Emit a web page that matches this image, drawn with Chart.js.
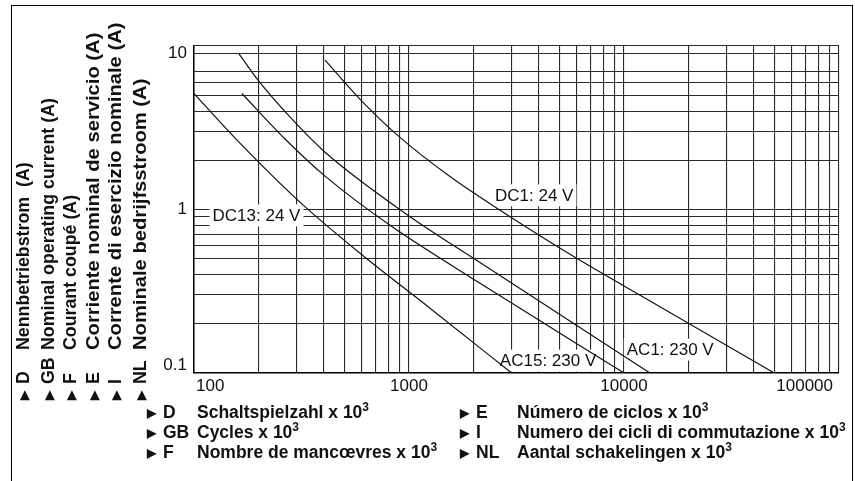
<!DOCTYPE html>
<html lang="de">
<head>
<meta charset="utf-8">
<title>Nennbetriebstrom / Schaltspielzahl</title>
<script src="https://cdn.jsdelivr.net/npm/chart.js"></script>
<style>
  body { margin: 0; background: #fff; }
  .wrap { position: relative; width: 855px; height: 481px; overflow: hidden; font-family: "Liberation Sans", Arial, sans-serif; color: #111; }
  #chart { position: absolute; left: 0; top: 0; }
  .frame { position: absolute; left: 11px; top: 5px; width: 840px; height: 500px; border: 1.5px solid #000; }
  .side, .leg { position: absolute; white-space: pre; font-weight: bold; font-size: 17.5px; line-height: 20px; height: 20px; }
  .side { top: 400px; font-size: 17.8px; transform-origin: 0 0; transform: rotate(-90deg); }
  .side .txt { display: inline-block; transform-origin: 0 50%; }
  .side.wide .txt { transform: scaleX(1.135); }
  .tri { display: inline-block; width: 16px; font-size: 12px; vertical-align: 1px; }
  .code { display: inline-block; width: 34px; }
  .col2 .code { width: 41px; }
  sup { font-size: 12px; line-height: 0; vertical-align: 7px; }
</style>
</head>
<body>
<div class="wrap">
  <canvas id="chart" width="855" height="481"></canvas>
  <div class="frame"></div>
  <div id="legend"></div>
</div>

<script>
// 数据：横轴为循环次数，纵轴为电流 (A)
const dc13X = [100, 164, 311, 592, 1252, 3000];
const dc13Y = [5.12, 2.54, 1.11, 0.54, 0.249, 0.1];
const ac15X = [167, 265, 407, 816, 2139, 10000];
const ac15Y = [5.12, 2.70, 1.60, 0.80, 0.354, 0.1];
const ac1X = [162, 199, 280, 407, 958, 2139, 13200];
const ac1Y = [8.96, 6.16, 3.67, 2.24, 0.95, 0.474, 0.1];
const dc1X = [407, 592, 908, 1551, 2651, 5917, 13210, 50000];
const dc1Y = [8.19, 4.72, 2.76, 1.59, 0.99, 0.51, 0.276, 0.1];

const seriesNames = ['DC13: 24 V', 'AC15: 230 V', 'AC1: 230 V', 'DC1: 24 V'];

// 网格与刻度
const xGrid = [100, 200, 300, 400, 500, 600, 700, 800, 900,
  1000, 2000, 3000, 4000, 5000, 6000, 7000, 8000, 9000,
  10000, 20000, 30000, 40000, 50000, 60000, 70000, 80000, 90000, 100000];
const yGrid = [0.1, 0.2, 0.3, 0.4, 0.5, 0.6, 0.7, 0.8, 0.9, 1, 2, 3, 4, 5, 6, 7, 9, 10];
const xTickLabels = [100, 1000, 10000, 100000];
const yTickLabels = [0.1, 1, 10];

// 轴说明
const yAxisTexts = [
  ['D', 'Nennbetriebstrom  (A)'],
  ['GB', 'Nominal operating current (A)'],
  ['F', 'Courant coupé (A)'],
  ['E', 'Corriente nominal de servicio (A)'],
  ['I', 'Corrente di esercizio nominale (A)'],
  ['NL', 'Nominale bedrijfsstroom (A)']
];
const xAxisTexts = [
  ['D', 'Schaltspielzahl x 10'],
  ['GB', 'Cycles x 10'],
  ['F', 'Nombre de mancœvres x 10'],
  ['E', 'Número de ciclos x 10'],
  ['I', 'Numero dei cicli di commutazione x 10'],
  ['NL', 'Aantal schakelingen x 10']
];

function toPoints(xs, ys) {
  return xs.map((x, i) => ({ x: x, y: ys[i] }));
}

// 左侧竖排文字和下方说明
const legend = document.getElementById('legend');
const sideX = [22.7, 48.3, 70, 93.3, 115, 140];
yAxisTexts.forEach((t, i) => {
  const d = document.createElement('div');
  d.className = i < 3 ? 'side' : 'side wide';
  d.style.left = (sideX[i] - 10) + 'px';
  d.innerHTML = '<span class="tri">\u25B6</span><span class="code">' + t[0] + '</span><span class="txt">' + t[1] + '</span>';
  legend.appendChild(d);
});
xAxisTexts.forEach((t, i) => {
  const d = document.createElement('div');
  d.className = i < 3 ? 'leg' : 'leg col2';
  d.style.left = (i < 3 ? 147 : 460) + 'px';
  d.style.top = (402 + (i % 3) * 20) + 'px';
  d.innerHTML = '<span class="tri">\u25B6</span><span class="code">' + t[0] + '</span>' + t[1] + '<sup>3</sup>';
  legend.appendChild(d);
});

const FONT = '17px "Liberation Sans", Arial, sans-serif';

// 曲线标注（白底）
const curveLabels = [
  { text: seriesNames[0], x: 122, y: 0.92 },
  { text: seriesNames[3], x: 2512, y: 1.22 },
  { text: seriesNames[1], x: 2646, y: 0.119 },
  { text: seriesNames[2], x: 10300, y: 0.139 }
];

const labelPlugin = {
  id: 'labelPlugin',
  beforeDatasetsDraw(chart) {
    const ctx = chart.ctx;
    const xs = chart.scales.x, ys = chart.scales.y;
    ctx.save();
    ctx.font = FONT;
    ctx.textBaseline = 'middle';
    ctx.textAlign = 'left';
    curveLabels.forEach(l => {
      const px = xs.getPixelForValue(l.x);
      const py = ys.getPixelForValue(l.y);
      const w = ctx.measureText(l.text).width;
      ctx.fillStyle = '#fff';
      ctx.fillRect(px - 3, py - 11, w + 6, 22);
      ctx.fillStyle = '#111';
      ctx.fillText(l.text, px, py + 1);
    });
    ctx.restore();
  },
  afterDraw(chart) {
    const ctx = chart.ctx;
    const xs = chart.scales.x, ys = chart.scales.y;
    const area = chart.chartArea;
    ctx.save();
    ctx.font = FONT;
    ctx.fillStyle = '#111';
    ctx.textBaseline = 'top';
    xTickLabels.forEach((v, i) => {
      let px = xs.getPixelForValue(v);
      ctx.textAlign = 'center';
      if (i === 0) { ctx.textAlign = 'left'; px += 2; }
      if (i === xTickLabels.length - 1) { ctx.textAlign = 'right'; px -= 6; }
      ctx.fillText(String(v), px, area.bottom + 5);
    });
    ctx.textBaseline = 'middle';
    ctx.textAlign = 'right';
    yTickLabels.forEach((v, i) => {
      let py = ys.getPixelForValue(v);
      if (i === 0) py -= 8;
      if (i === yTickLabels.length - 1) py += 7;
      ctx.fillText(String(v), area.left - 7, py);
    });
    ctx.restore();
  }
};

const lineStyle = { borderColor: '#111', borderWidth: 1.2, pointRadius: 0, fill: false, cubicInterpolationMode: 'monotone' };

new Chart(document.getElementById('chart'), {
  type: 'line',
  data: {
    datasets: [
      Object.assign({ label: seriesNames[0], data: toPoints(dc13X, dc13Y) }, lineStyle),
      Object.assign({ label: seriesNames[1], data: toPoints(ac15X, ac15Y) }, lineStyle),
      Object.assign({ label: seriesNames[2], data: toPoints(ac1X, ac1Y) }, lineStyle),
      Object.assign({ label: seriesNames[3], data: toPoints(dc1X, dc1Y) }, lineStyle)
    ]
  },
  options: {
    responsive: false,
    animation: false,
    devicePixelRatio: 1,
    layout: { padding: { left: 194, top: 46, right: 16, bottom: 108 } },
    plugins: { legend: { display: false }, tooltip: { enabled: false } },
    scales: {
      x: {
        type: 'logarithmic', min: 100, max: 100000,
        afterBuildTicks: s => { s.ticks = xGrid.map(v => ({ value: v })); },
        ticks: { display: false },
        grid: { color: '#2a2a2a', lineWidth: 1.1, drawTicks: false },
        border: { display: true, color: '#000', width: 1.5 }
      },
      y: {
        type: 'logarithmic', min: 0.1, max: 10,
        afterBuildTicks: s => { s.ticks = yGrid.map(v => ({ value: v })); },
        ticks: { display: false },
        grid: { color: '#2a2a2a', lineWidth: 1.1, drawTicks: false },
        border: { display: true, color: '#000', width: 1.5 }
      }
    }
  },
  plugins: [labelPlugin]
});
</script>
</body>
</html>
